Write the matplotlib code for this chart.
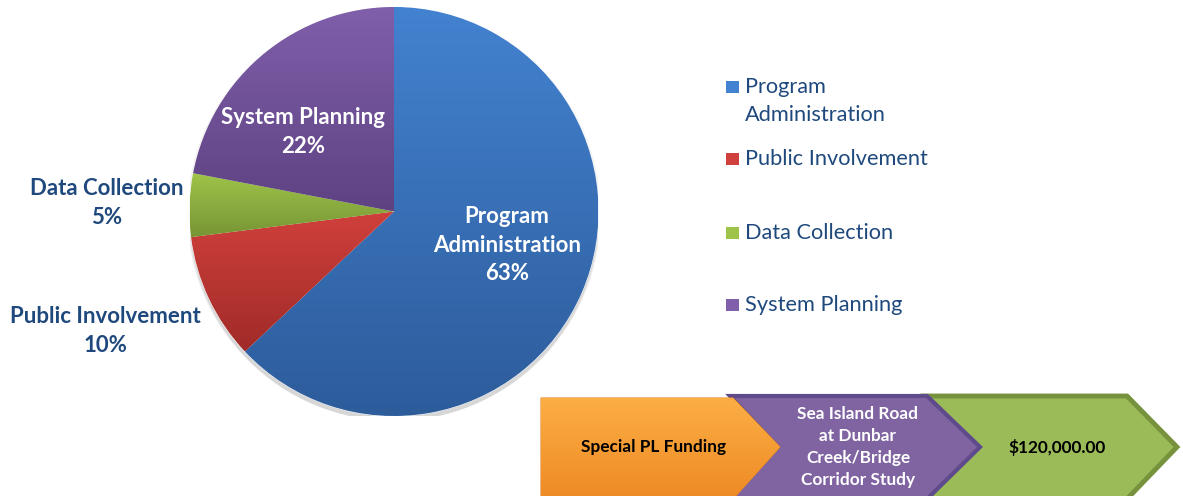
import numpy as np
import matplotlib
matplotlib.use("Agg")
import matplotlib.pyplot as plt
from matplotlib.patches import Polygon, Rectangle, Circle
from matplotlib.colors import to_rgb

plt.rcParams['font.family'] = ['Lato', 'DejaVu Sans']

# data
categories = ['Program Administration', 'Public Involvement', 'Data Collection', 'System Planning']
shares = [63, 10, 5, 22]
legend_labels = ['Program\nAdministration', 'Public Involvement', 'Data Collection', 'System Planning']
top_colors = ['#4382D0', '#D0403C', '#9EC349', '#805FAB']
bot_colors = ['#2D5C9B', '#A02B28', '#779535', '#5E4282']

# chevron flow
steps = ['Special PL Funding', 'Sea Island Road\nat Dunbar\nCreek/Bridge\nCorridor Study', '$120,000.00']

navy = '#1F497D'


def gradient_fill(ax, patch, c_top, c_bot, extent=None):
    if extent is None:
        bb = patch.get_path().get_extents()
        extent = (bb.x0, bb.x1, bb.y0, bb.y1)
    t = np.linspace(0, 1, 256)[:, None]
    a, b = np.array(to_rgb(c_top)), np.array(to_rgb(c_bot))
    img = (a[None, :] * (1 - t) + b[None, :] * t)[:, None, :]
    im = ax.imshow(img, extent=extent, origin='upper', aspect='auto',
                   interpolation='bilinear', zorder=patch.get_zorder() + 0.1)
    im.set_clip_path(patch)
    return im


fig = plt.figure(figsize=(11.83, 4.96), dpi=100)

# pie
ax = fig.add_axes([0.1602, 0.1613, 0.3457, 0.8246])
# soft shadow
for k, al in enumerate([0.05, 0.05, 0.06]):
    ax.add_patch(Circle((0, -0.012 - 0.006 * k), 1.0 + 0.006 * (2 - k), color='k', alpha=al,
                        lw=0, zorder=0))
wedges, _ = ax.pie(shares, startangle=90, counterclock=False, radius=1,
                   colors=top_colors, wedgeprops=dict(linewidth=0.6, edgecolor='white'))
for w, ct, cb in zip(wedges, top_colors, bot_colors):
    w.set_zorder(2)
    gradient_fill(ax, w, ct, cb)
ax.set_xlim(-1, 1)
ax.set_ylim(-1, 1)
ax.set_aspect('equal')
ax.axis('off')

label_pos = [(0.553, -0.164), (-1.41, -0.584), (-1.405, 0.042), (-0.445, 0.389)]
label_col = ['white', navy, navy, 'white']
label_txt = ['Program\nAdministration', 'Public Involvement', 'Data Collection', 'System Planning']
for (x, y), c, t, v in zip(label_pos, label_col, label_txt, shares):
    ax.text(x, y, f'{t}\n{v}%', ha='center', va='center', color=c, fontsize=16,
            fontweight='bold', linespacing=1.46, clip_on=False, zorder=5)

# legend
leg_y = [87, 159, 233, 305]
for y, lab, ct, cb in zip(leg_y, legend_labels, top_colors, bot_colors):
    yf = 1 - y / 496
    sq = Rectangle((726 / 1183, yf - 6 / 496), 13 / 1183, 12 / 496, transform=fig.transFigure,
                   facecolor=ct, edgecolor='none')
    fig.patches.append(sq)
    fig.text(745 / 1183, yf + 10 / 496, lab, ha='left', va='top', fontsize=15.7, color=navy,
             linespacing=1.5)

# chevrons
ov = fig.add_axes([0, 0, 1, 1])
ov.set_xlim(0, 1183)
ov.set_ylim(0, 496)
ov.axis('off')

green = Polygon([(926, 100), (1127, 100), (1177, 49), (1127, -3), (926, -3), (978, 49)],
                closed=True, facecolor='#9BBB59', edgecolor='#76923C', lw=3.5, zorder=1)
purple = Polygon([(730, 100), (927, 100), (980, 49), (927, -3), (730, -3), (778, 49)],
                 closed=True, facecolor='#8064A2', edgecolor='#5F4B8B', lw=3, zorder=3)
orange = Polygon([(541, 98), (733, 98), (780, 49), (733, -3), (541, -3)],
                 closed=True, facecolor='#F79A32', edgecolor='#E0862A', lw=0.8, zorder=5)
for p in [green, purple, orange]:
    ov.add_patch(p)
gradient_fill(ov, orange, '#FCAE45', '#EE8A24', extent=(541, 780, -3, 98))

step_x = [654, 858, 1057]
step_col = ['black', 'white', 'black']
for x, s, c in zip(step_x, steps, step_col):
    ov.text(x, 49, s, ha='center', va='center', color=c, fontsize=12.4, fontweight='bold',
            linespacing=1.45, zorder=10)

fig.savefig('out.png', dpi=100, facecolor='white')
